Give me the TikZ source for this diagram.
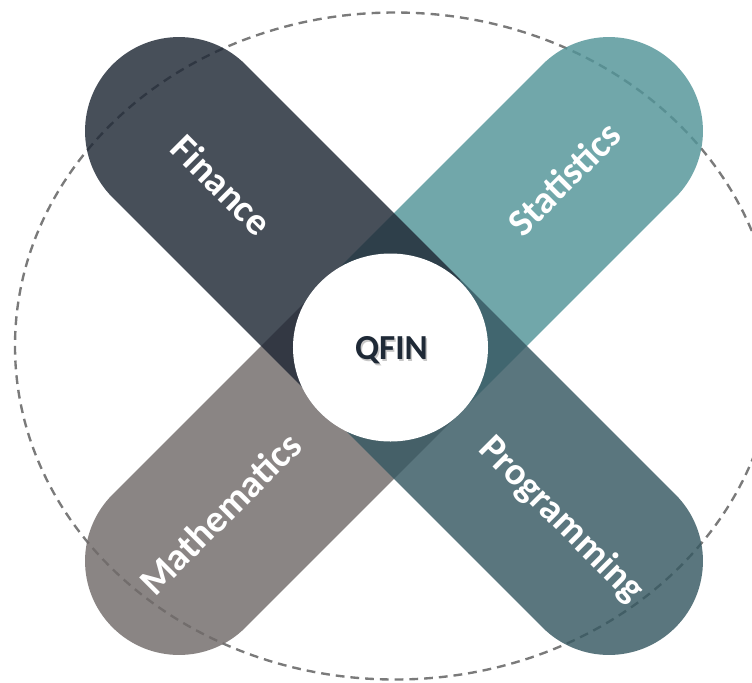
\documentclass[tikz,border=0pt]{standalone}
\usepackage{fontspec}
\setmainfont{Carlito}
\definecolor{finance}{RGB}{32,41,54}
\definecolor{statistics}{RGB}{82,148,152}
\definecolor{mathematics}{RGB}{113,107,106}
\definecolor{programming}{RGB}{55,89,98}
\definecolor{hubtext}{RGB}{30,41,54}
\definecolor{ring}{RGB}{122,122,122}

\begin{document}
\begin{tikzpicture}
            \tikzstyle{arm} = [fill opacity=0.825]
            \tikzstyle{armlabel} = [text=white, font=\fontsize{22}{26}\selectfont\bfseries]
            \tikzstyle{hublabel} = [font=\fontsize{20}{24}\selectfont\bfseries]
            \useasboundingbox (-7.88, -6.72) rectangle (7.16, 6.92);

            \draw[ring, line width=1.35pt, dash pattern=on 5pt off 3.4pt] (0.02, 0) ellipse (7.6 and 6.67);

            \fill[arm, statistics, rotate=45] (0, -1.88) -- (6.08, -1.88)
                arc (-90:90:1.88) -- (0, 1.88) -- cycle;
            \fill[arm, mathematics, rotate=225] (0, -1.88) -- (6.08, -1.88)
                arc (-90:90:1.88) -- (0, 1.88) -- cycle;
            \fill[arm, finance, rotate=135] (0, -1.88) -- (6.08, -1.88)
                arc (-90:90:1.88) -- (0, 1.88) -- cycle;
            \fill[arm, programming, rotate=-45] (0, -1.88) -- (6.08, -1.88)
                arc (-90:90:1.88) -- (0, 1.88) -- cycle;

            \node[armlabel, rotate=-45] (fin) at (-3.44, 3.22) {Finance};
            \node[armlabel, rotate=45] (stat) at (3.4, 3.35) {Statistics};
            \node[armlabel, rotate=45] (math) at (-3.48, -3.35) {Mathematics};
            \node[armlabel, rotate=-45] (prog) at (3.34, -3.48) {Programming};

            \fill[white] (-0.07, -0.03) ellipse (1.95 and 1.88);
            \node[hublabel, text=black, opacity=0.22] (hubshadow) at (-0.02, -0.12) {QFIN};
            \node[hublabel, text=hubtext] (hub) at (-0.05, -0.09) {QFIN};
        \end{tikzpicture}
\end{document}
